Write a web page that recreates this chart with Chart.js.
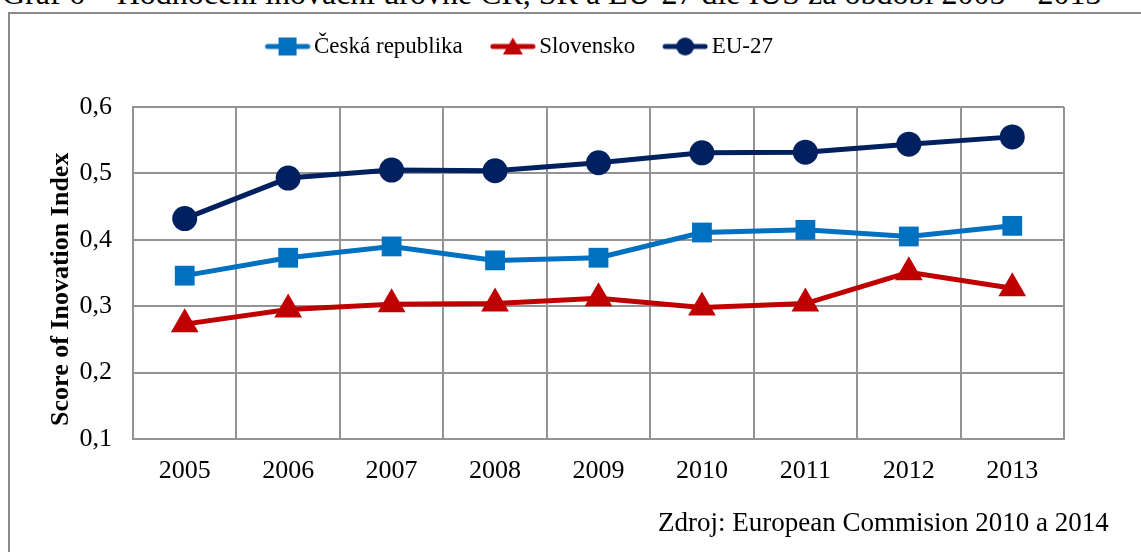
<!DOCTYPE html>
<html>
<head>
<meta charset="utf-8">
<script src="https://cdn.jsdelivr.net/npm/chart.js@4"></script>
<style>
  html, body { margin: 0; padding: 0; background: #fff; overflow: hidden; }
  body { width: 1141px; height: 552px; position: relative; font-family: "Liberation Serif", "Times New Roman", serif; }
  #title { position: absolute; left: 2px; top: -25px; font-size: 32px; white-space: nowrap; color: #000; }
  #frame { position: absolute; left: 8px; top: 12px; width: 1200px; height: 600px; border: 2px solid #8a8a8a; box-sizing: border-box; }
  #source { position: absolute; left: 658px; top: 507px; font-size: 27px; color: #000; white-space: nowrap; }
  #wrap { position: absolute; left: 0; top: 0; width: 1141px; height: 552px; }
</style>
</head>
<body>
<div id="title">Graf 6 – Hodnocení inovační úrovně ČR, SR a EU-27 dle IUS za období 2005 – 2013</div>
<div id="frame"></div>
<div id="wrap"><canvas id="innovChart" width="1141" height="552"></canvas></div>
<div id="source">Zdroj: European Commision 2010 a 2014</div>
<script>
const years = ["2005", "2006", "2007", "2008", "2009", "2010", "2011", "2012", "2013"];
const czech = [0.346, 0.373, 0.390, 0.369, 0.373, 0.411, 0.415, 0.405, 0.421];
const slovakia = [0.273, 0.295, 0.303, 0.304, 0.312, 0.298, 0.304, 0.351, 0.327];
const eu27 = [0.432, 0.493, 0.505, 0.504, 0.516, 0.531, 0.532, 0.544, 0.555];
const yTickLabels = ["0,1", "0,2", "0,3", "0,4", "0,5", "0,6"];

const serif = "Liberation Serif";
Chart.defaults.font.family = serif;

// legend icon: short line with the marker in the middle,
// drawn shifted right inside a wider image so it sits close to the text
function legendIcon(color, shape) {
  const c = document.createElement("canvas");
  c.width = 62;
  c.height = 22;
  const g = c.getContext("2d");
  const o = 16;
  g.strokeStyle = color;
  g.fillStyle = color;
  g.lineWidth = 5;
  g.lineCap = "round";
  g.beginPath();
  g.moveTo(o + 3, 11);
  g.lineTo(o + 43, 11);
  g.stroke();
  g.beginPath();
  if (shape === "rect") {
    g.rect(o + 14, 2, 18, 18);
  } else if (shape === "triangle") {
    g.moveTo(o + 23, 2);
    g.lineTo(o + 33, 19);
    g.lineTo(o + 13, 19);
    g.closePath();
  } else {
    g.arc(o + 23, 11, 9, 0, Math.PI * 2);
  }
  g.fill();
  return c;
}

const icons = [
  legendIcon("#0070C0", "rect"),
  legendIcon("#C00000", "triangle"),
  legendIcon("#002060", "circle"),
];

const legendSpace = {
  id: "legendSpace",
  beforeInit(chart) {
    const origFit = chart.legend.fit;
    chart.legend.fit = function () {
      origFit.bind(chart.legend)();
      this.height += 39;
    };
  },
};

document.addEventListener("DOMContentLoaded", function () {
  const ctx = document.getElementById("innovChart").getContext("2d");
  new Chart(ctx, {
    type: "line",
    data: {
      labels: years,
      datasets: [
        {
          label: "Česká republika",
          data: czech,
          borderColor: "#0070C0",
          backgroundColor: "#0070C0",
          borderWidth: 5,
          pointStyle: "rect",
          pointRadius: 14,
          pointHoverRadius: 14,
          pointBorderWidth: 0,
          tension: 0,
        },
        {
          label: "Slovensko",
          data: slovakia,
          borderColor: "#C00000",
          backgroundColor: "#C00000",
          borderWidth: 5,
          pointStyle: "triangle",
          pointRadius: 11,
          pointHoverRadius: 11,
          tension: 0,
        },
        {
          label: "EU-27",
          data: eu27,
          borderColor: "#002060",
          backgroundColor: "#002060",
          borderWidth: 5,
          pointStyle: "circle",
          pointRadius: 10,
          pointHoverRadius: 10,
          tension: 0,
        },
      ],
    },
    options: {
      responsive: false,
      animation: false,
      layout: { padding: { top: 16, right: 77, left: 0, bottom: 0 } },
      plugins: {
        tooltip: { enabled: false },
        legend: {
          position: "top",
          labels: {
            usePointStyle: true,
            pointStyleWidth: 46,
            padding: 19,
            color: "#000",
            font: { family: serif, size: 23 },
            generateLabels(chart) {
              const items = Chart.defaults.plugins.legend.labels.generateLabels(chart);
              items.forEach(function (it, i) {
                it.pointStyle = icons[i];
              });
              // invisible trailing space nudges the centred legend a bit to the left
              items[items.length - 1].text += "\u00a0\u00a0\u00a0\u00a0\u00a0\u00a0";
              return items;
            },
          },
        },
      },
      scales: {
        x: {
          offset: true,
          grid: { offset: true, color: "#939393", lineWidth: 2, drawTicks: false },
          border: { color: "#939393", width: 2 },
          ticks: { color: "#000", padding: 17, font: { family: serif, size: 26 } },
          afterFit(scale) { scale.height = 113; },
        },
        y: {
          min: 0.1,
          max: 0.6,
          grid: { color: "#939393", lineWidth: 2, drawTicks: false },
          border: { color: "#939393", width: 2 },
          ticks: {
            stepSize: 0.1,
            padding: 21,
            color: "#000",
            font: { family: serif, size: 26 },
            callback: function (v) {
              const i = Math.round((v - 0.1) * 10);
              return yTickLabels[i];
            },
          },
          title: {
            display: true,
            // trailing spaces push the rotated text a little lower, as in the original
            text: "Score of Inovation Index\u00a0\u00a0\u00a0\u00a0\u00a0",
            color: "#000",
            padding: { top: 46, bottom: 0 },
            font: { family: serif, size: 26, weight: "bold" },
          },
          afterFit(scale) { scale.width = 133; },
        },
      },
    },
    plugins: [legendSpace],
  });
});
</script>
</body>
</html>
